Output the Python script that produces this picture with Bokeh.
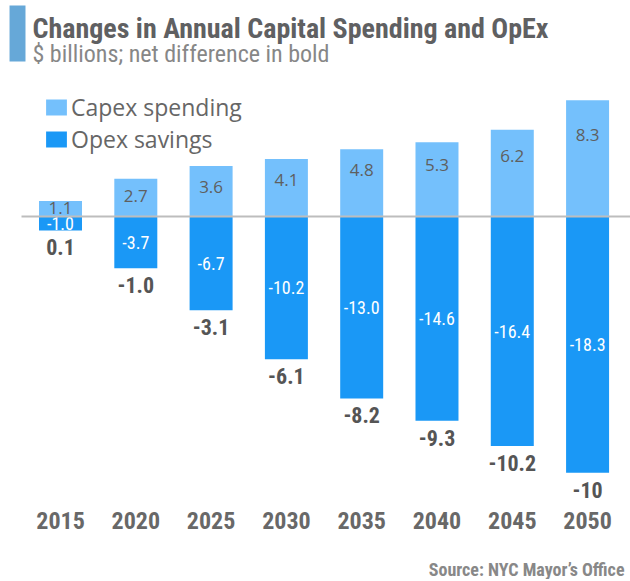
from bokeh.plotting import figure
from bokeh.models import (ColumnDataSource, Range1d, Label, BoxAnnotation,
                          Legend, LegendItem, Title, FixedTicker)
from bokeh.embed import file_html
from bokeh.resources import INLINE
from bokeh.core.properties import value

# ---- data ----
years = ["2015", "2020", "2025", "2030", "2035", "2040", "2045", "2050"]
capex = [1.1, 2.7, 3.6, 4.1, 4.8, 5.3, 6.2, 8.3]
opex = [-1.0, -3.7, -6.7, -10.2, -13.0, -14.6, -16.4, -18.3]
net = ["0.1", "-1.0", "-3.1", "-6.1", "-8.2", "-9.3", "-10.2", "-10"]

CAPEX_COLOR = "#74C0FC"
OPEX_COLOR = "#1A98F6"
NARROW = "'Roboto Condensed', 'Noto Sans Condensed', 'Liberation Sans Narrow', 'DejaVu Sans Condensed', sans-serif"
BODY = "'Open Sans', sans-serif"

idx = list(range(len(years)))
src = ColumnDataSource(dict(
    x=idx, year=years, capex=capex, opex=opex, net=net,
    capex_lbl=[f"{v:.1f}" for v in capex],
    opex_lbl=[f"{v:.1f}" for v in opex],
    capex_y=[max(0.55 * v, min(v - 1.5, 0.7 * v)) for v in capex],
    opex_y=[v / 2 for v in opex],
))

p = figure(x_range=Range1d(-0.704, 7.570), y_range=Range1d(-20.29, 15.43),
           frame_width=623, frame_height=500,
           min_border_left=7, min_border_right=0, min_border_top=0, min_border_bottom=0,
           y_axis_location=None,
           output_backend="svg", toolbar_location=None)
p.outline_line_color = None
p.xgrid.grid_line_color = None
p.ygrid.grid_line_color = None
p.background_fill_color = "white"
p.border_fill_color = "white"

r1 = p.vbar(x="x", top="capex", bottom=0, width=0.571, source=src,
            fill_color=CAPEX_COLOR, line_color=None)
r2 = p.vbar(x="x", top=0, bottom="opex", width=0.571, source=src,
            fill_color=OPEX_COLOR, line_color=None)

# zero baseline (starts right of the header accent bar)
p.add_layout(BoxAnnotation(left=-0.518, right=7.570, top=0.075, bottom=-0.075,
                           fill_color="#BDBDBD", fill_alpha=1, line_color=None))

p.text(x="x", y="capex_y", text="capex_lbl", source=src, text_align="center",
       text_baseline="middle", text_font=value(BODY), text_font_size="17px",
       text_color="#5f5f5f")
p.text(x="x", y="opex_y", text="opex_lbl", source=src, text_align="center",
       text_baseline="middle", text_font=value(NARROW), text_font_size="18px",
       text_color="white")
p.text(x="x", y="opex", text="net", source=src, text_align="center",
       text_baseline="top", y_offset=9, text_font=value(NARROW),
       text_font_style="bold", text_font_size="22px", text_color="#555555")

# header: blue accent bar, title, subtitle
p.add_layout(BoxAnnotation(left=-0.677, right=-0.465, top=15.07, bottom=11.07,
                           fill_color="#66A8D8", fill_alpha=1, line_color=None))
p.add_layout(Label(x=-0.372, y=13.43, text="Changes in Annual Capital Spending and OpEx",
                   text_font=NARROW, text_font_style="bold", text_font_size="28px",
                   text_color="#5f6062", text_baseline="alphabetic"))
p.add_layout(Label(x=-0.372, y=11.64, text="$ billions; net difference in bold",
                   text_font=NARROW, text_font_size="24px",
                   text_color="#878787", text_baseline="alphabetic"))

leg_style = dict(glyph_width=26, glyph_height=20, label_height=26, spacing=0,
                 padding=0, margin=0, border_line_color=None, background_fill_alpha=0,
                 label_text_font=BODY, label_text_font_size="23px",
                 label_text_color="#666666", label_standoff=2)
p.add_layout(Legend(items=[LegendItem(label="Capex spending", renderers=[r1])],
                    location=(36, 377), **leg_style))
p.add_layout(Legend(items=[LegendItem(label="Opex savings", renderers=[r2])],
                    location=(36, 345), **leg_style))

p.xaxis.ticker = FixedTicker(ticks=idx)
p.xaxis.major_label_overrides = {i: y for i, y in zip(idx, years)}
p.xaxis.axis_line_color = None
p.xaxis.major_tick_line_color = None
p.xaxis.minor_tick_line_color = None
p.xaxis.major_tick_out = 0
p.xaxis.major_tick_in = 0
p.xaxis.major_label_standoff = 11
p.xaxis.major_label_text_font = NARROW
p.xaxis.major_label_text_font_style = "bold"
p.xaxis.major_label_text_font_size = "24px"
p.xaxis.major_label_text_color = "#686868"
p.xaxis.axis_label = " "
p.xaxis.axis_label_text_font_size = "6px"
p.xaxis.axis_label_standoff = 16

p.add_layout(Title(text="Source: NYC Mayor\u2019s Office", align="right",
                   text_font=NARROW, text_font_style="bold", text_font_size="18px",
                   text_color="#888888", standoff=0, offset=6), "below")

open("out.html", "w").write(file_html(p, INLINE))
